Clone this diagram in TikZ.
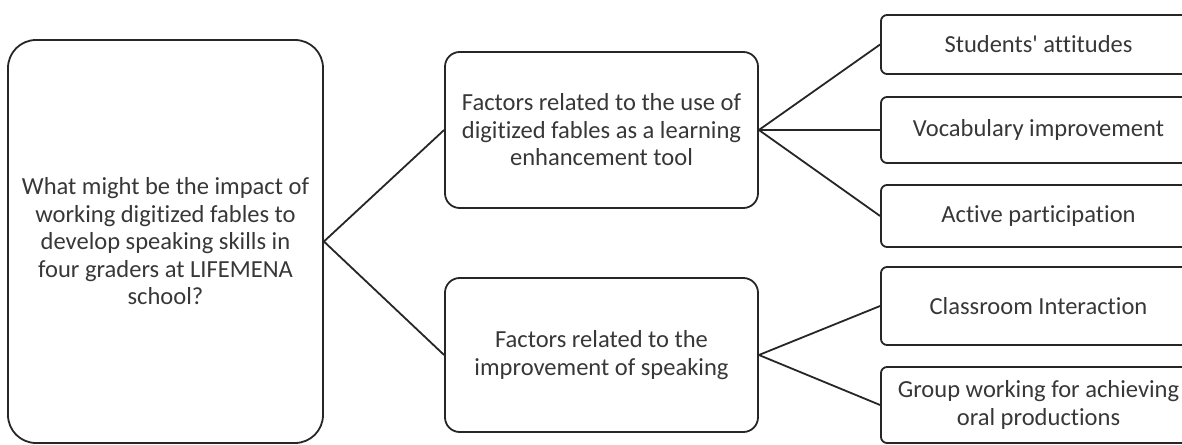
\documentclass[tikz,border=0pt]{standalone}
\usepackage{fontspec}
\setmainfont{Carlito}[Ligatures=NoCommon]
\usepackage{tikz}
\usetikzlibrary{positioning}
\definecolor{BoxLine}{RGB}{38,38,38}
\definecolor{BoxText}{RGB}{55,55,55}

\tikzset{
  base/.style={draw=BoxLine,line width=1.35pt,align=center,text=BoxText,
    inner sep=2pt,font=\fontsize{18.4}{20.6}\selectfont},
  qbox/.style={base,rounded corners=21pt,minimum width=236.25pt,minimum height=302.25pt},
  fbox/.style={base,rounded corners=11pt,minimum width=234.75pt},
  lbox/.style={base,rounded corners=4.5pt,minimum width=236.25pt},
  link/.style={draw=BoxLine,line width=1.35pt}
}

\begin{document}
\begin{tikzpicture}[x=0.75pt,y=-0.75pt]
\useasboundingbox (0,0) rectangle (1182,445);
% research question
\node[qbox] (question) at (165.5,241.5)
  {What might be the impact of\\ working digitized fables to\\ develop speaking skills in\\ four graders at LIFEMENA\\ school?};
% the two groups of factors
\node[fbox,minimum height=117pt] (factA) at (601.5,130)
  {Factors related to the use of\\ digitized fables as a learning\\ enhancement tool};
\node[fbox,minimum height=115.5pt] (factB) at (601.5,355)
  {Factors related to the\\ improvement of speaking};
% categories
\node[lbox,minimum height=44.25pt] (attitudes) at (1038.5,44.5) {Students\textquotesingle\ attitudes};
\node[lbox,minimum height=49.5pt] (vocab) at (1038.5,130) {Vocabulary improvement};
\node[lbox,minimum height=46.5pt] (particip) at (1038.5,216) {Active participation};
\node[lbox,minimum height=58.5pt] (interact) at (1038.5,306) {Classroom Interaction};
\node[lbox,minimum height=57pt] (groupwork) at (1038.5,405)
  {Group working for achieving\\ oral productions};
% connectors
\draw[link] (factA.west) -- (question.east) -- (factB.west);
\foreach \n in {attitudes,vocab,particip}
  \draw[link] (factA.east) -- (\n.west);
\foreach \n in {interact,groupwork}
  \draw[link] (factB.east) -- (\n.west);
\end{tikzpicture}
\end{document}
